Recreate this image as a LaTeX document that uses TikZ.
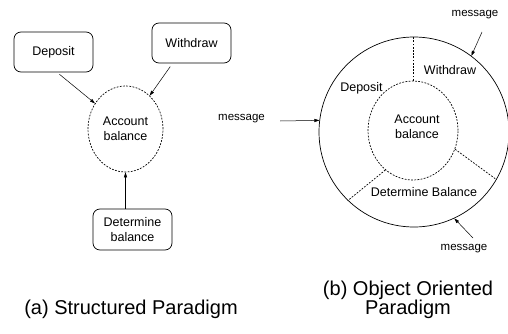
\documentclass[tikz,border=0pt]{standalone}
\usepackage{fontspec}
\setmainfont{Liberation Sans}
\usetikzlibrary{arrows.meta,shapes.geometric}
\begin{document}
\begin{tikzpicture}[x=1pt,y=-1pt,
  lbl/.style={font=\fontsize{12.5}{15.5}\selectfont, align=center, inner sep=0pt},
  msg/.style={font=\fontsize{11.5}{13}\selectfont, inner sep=0pt},
  captxt/.style={font=\fontsize{20}{17}\selectfont, align=center, inner sep=0pt},
  opbox/.style={draw, rounded corners=7pt, line width=0.7pt, align=center,
    font=\fontsize{12.5}{15.5}\selectfont, inner sep=0pt},
  dcirc/.style={draw, ellipse, dash pattern=on 1.8pt off 1.4pt, line width=0.7pt,
    inner sep=0pt, align=center, font=\fontsize{12.5}{15.5}\selectfont},
  arr/.style={-{Triangle[length=5pt,width=3.2pt]}, line width=0.5pt},
  sep/.style={dash pattern=on 1.8pt off 1.4pt, line width=0.7pt}
]
\useasboundingbox (0,0) rectangle (508,334);

% (a) Structured paradigm
\node[opbox, minimum width=79pt, minimum height=40pt] (dep) at (53.5,52) {Deposit};
\node[opbox, minimum width=79pt, minimum height=40pt] (wd) at (191.5,43) {Withdraw};
\node[opbox, minimum width=79pt, minimum height=41pt] (det) at (132.5,229.5) {Determine\\balance};
\node[dcirc, minimum width=75pt, minimum height=86pt] (acc) at (125.5,129) {Account\\balance};

\draw[arr, shorten <=3pt] (dep.-80) -- (acc.140);
\draw[arr, shorten <=4pt] (wd.227) -- (acc.54);
\draw[arr] (det.north -| acc) -- (acc.south);

% (b) Object oriented paradigm
\node[draw, circle, minimum size=190pt, line width=0.7pt, inner sep=0pt] (obj) at (414,132) {};
\node[dcirc, minimum width=90pt, minimum height=99pt] (inn) at (413,130.5) {};
\node[lbl] (acct) at (417,127) {Account\\balance};
\node[lbl] (wdt) at (450,70) {Withdraw};
\node[lbl] (dept) at (361.5,88.5) {Deposit};
\node[lbl] (dett) at (424,192) {Determine Balance};

\draw[sep] (inn.north) -- (inn.north |- obj.north);
\draw[sep] (inn.235) -- (obj.226);
\draw[sep] (inn.336) -- (obj.330);

\node[msg] (mL) at (241.5,119) {message};
\coordinate (mLs) at (280,121);
\draw[arr] (mLs) -- (obj.173);
\node[msg] (mT) at (475,14.5) {message};
\coordinate (mTs) at (482,32);
\draw[arr] (mTs) -- (obj.53);
\node[msg] (mB) at (464,249) {message};
\coordinate (mBs) at (473,238);
\draw[arr] (mBs) -- (obj.295);

% captions
\node[captxt] (capa) at (131,309) {(a) Structured Paradigm};
\node[captxt] (capb) at (408,300) {(b) Object Oriented\\Paradigm};
\end{tikzpicture}
\end{document}
